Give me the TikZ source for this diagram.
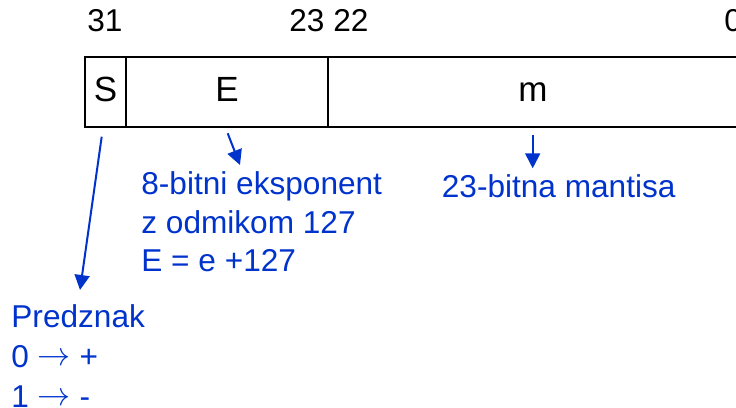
\documentclass[tikz,border=0pt]{standalone}
\usepackage{fontspec}
\setmainfont{Liberation Sans}
\usetikzlibrary{arrows.meta}
\definecolor{myblue}{RGB}{0,51,204}
\newcommand{\myarr}{\raisebox{1pt}{\scalebox{1.15}{$\rightarrow$}}}
\begin{document}
\begin{tikzpicture}[x=0.5pt,y=-0.5pt,
  cell/.style={draw=black, line width=1pt, minimum height=35pt, inner sep=0pt,
    text height=9.3pt, text depth=0pt, font=\fontsize{17.5}{20}\selectfont},
  bitnum/.style={anchor=base west, inner sep=0pt, font=\fontsize{15.8}{19}\selectfont},
  bluetxt/.style={anchor=base west, inner sep=0pt, text=myblue, align=left},
  ptr/.style={draw=myblue, line width=1pt, -{Triangle[length=7.5pt,width=7.5pt]}}]
\clip (0,0) rectangle (736,408);
% bit numbers
\node[bitnum] (b31) at (87,31.7) {31};
\node[bitnum] (b23) at (289,31.7) {23 22};
\node[bitnum] (b0) at (724,31.7) {0};
% cells
\node[cell, minimum width=20.5pt] (S) at (105.5,91.7) {S};
\node[cell, minimum width=101pt] (E) at (227,91.7) {E};
\node[cell, minimum width=205pt] (M) at (533,91.7) {m};
% blue texts (base anchor = baseline of last line)
\node[bluetxt, font=\fontsize{15.8}{19.2}\selectfont] (exp) at (141,271.7) {8-bitni eksponent\\z odmikom 127\\E = e +127};
\node[bluetxt, font=\fontsize{15.8}{19}\selectfont] (man) at (441.5,197.5) {23-bitna mantisa};
\node[bluetxt, font=\fontsize{15.8}{20}\selectfont] (sgn) at (11,407) {Predznak\\0 \myarr{} +\\1 \myarr{} -};
% connectors
\coordinate (s1) at (101.7,136.7);
\coordinate (s2) at (80,290);
\coordinate (e1) at (227.7,133.3);
\coordinate (e2) at (240,165);
\coordinate (m1) at (532.7,135);
\coordinate (m2) at (532.7,168.3);
\draw[ptr] (s1) -- (s2);
\draw[ptr] (e1) -- (e2);
\draw[ptr] (m1) -- (m2);
\end{tikzpicture}
\end{document}
